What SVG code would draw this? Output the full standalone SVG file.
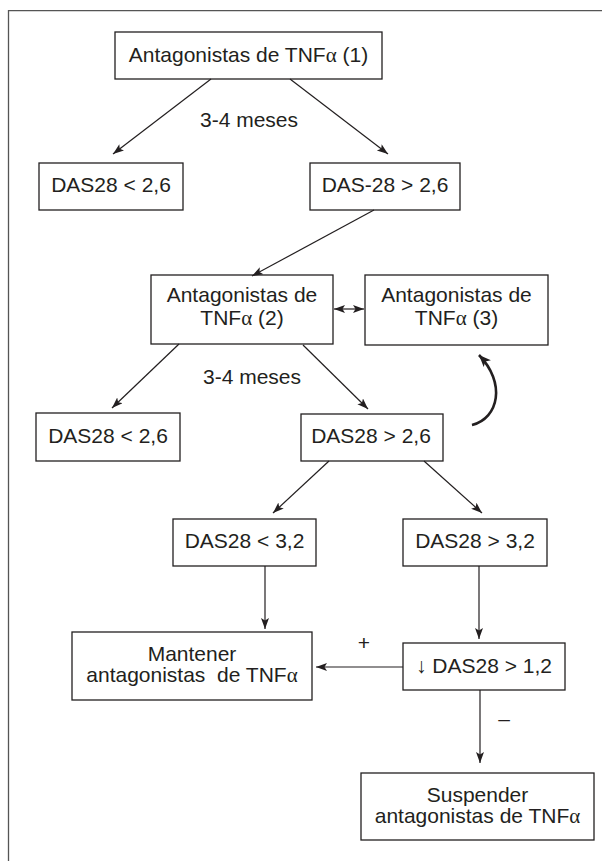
<svg xmlns="http://www.w3.org/2000/svg" width="602" height="861" viewBox="0 0 602 861">
<style>
.box{fill:#fff;stroke:#231f20;stroke-width:1.3}
.t{font-family:"Liberation Sans",Arial,sans-serif;font-size:21px;fill:#231f20;text-anchor:middle}
.a{font-family:"Liberation Serif","Times New Roman",serif}
.c{fill:none;stroke:#231f20;stroke-width:1.2}
.frame{fill:none;stroke:#555;stroke-width:1.3}
</style>
<defs>
<marker id="ah" markerUnits="userSpaceOnUse" markerWidth="13" markerHeight="10" refX="11" refY="4" orient="auto-start-reverse">
<path d="M0,0 L11,4 L0,8 L2.5,4 Z" fill="#231f20"/>
</marker>
<marker id="ahb" markerUnits="userSpaceOnUse" markerWidth="15" markerHeight="12" refX="12" refY="5" orient="auto">
<path d="M0,0 L12,5 L0,10 L3,5 Z" fill="#231f20"/>
</marker>
</defs>
<path class="frame" d="M8.5,861 V10.7 H602"/>
<g id="n1"><rect class="box" x="115" y="32" width="267" height="47"/><text class="t" x="248.5" y="62">Antagonistas de TNF<tspan class="a">α</tspan> (1)</text></g>
<g id="n2"><rect class="box" x="39" y="163" width="144" height="47"/><text class="t" x="111" y="192">DAS28 &lt; 2,6</text></g>
<g id="n3"><rect class="box" x="310" y="163" width="150" height="47"/><text class="t" x="385" y="192">DAS-28 &gt; 2,6</text></g>
<g id="n4"><rect class="box" x="151" y="275" width="182" height="69"/><text class="t" x="242" y="302">Antagonistas de</text><text class="t" x="242" y="325">TNF<tspan class="a">α</tspan> (2)</text></g>
<g id="n5"><rect class="box" x="365" y="275" width="183" height="70"/><text class="t" x="456.5" y="302">Antagonistas de</text><text class="t" x="456.5" y="325">TNF<tspan class="a">α</tspan> (3)</text></g>
<g id="n6"><rect class="box" x="36" y="413" width="144" height="48"/><text class="t" x="108" y="443">DAS28 &lt; 2,6</text></g>
<g id="n7"><rect class="box" x="301" y="414" width="142" height="47"/><text class="t" x="371" y="443">DAS28 &gt; 2,6</text></g>
<g id="n8"><rect class="box" x="173" y="519" width="143" height="47"/><text class="t" x="244.5" y="548">DAS28 &lt; 3,2</text></g>
<g id="n9"><rect class="box" x="403" y="519" width="144" height="47"/><text class="t" x="475" y="548">DAS28 &gt; 3,2</text></g>
<g id="n10"><rect class="box" x="72" y="632" width="240" height="68"/><text class="t" x="192" y="661">Mantener</text><text class="t" x="192" y="682" xml:space="preserve">antagonistas  de TNF<tspan class="a">α</tspan></text></g>
<g id="n11"><rect class="box" x="403" y="643" width="162" height="47"/><text class="t" x="484" y="673">↓ DAS28 &gt; 1,2</text></g>
<g id="n12"><rect class="box" x="361" y="773" width="233" height="67"/><text class="t" x="477.5" y="802">Suspender</text><text class="t" x="477.5" y="823">antagonistas de TNF<tspan class="a">α</tspan></text></g>
<g id="connectors">
<path class="c" marker-end="url(#ah)" d="M211,79 L113,154"/>
<path class="c" marker-end="url(#ah)" d="M290,79 L388,154"/>
<path class="c" marker-end="url(#ah)" d="M374,210 L252,276"/>
<path class="c" marker-start="url(#ah)" marker-end="url(#ah)" d="M334,309 L364,309"/>
<path class="c" marker-end="url(#ah)" d="M179,344 L112,408"/>
<path class="c" marker-end="url(#ah)" d="M303,345 L368,409"/>
<path class="c" marker-end="url(#ah)" d="M329,461 L273,513"/>
<path class="c" marker-end="url(#ah)" d="M424,461 L482,513"/>
<path class="c" marker-end="url(#ah)" d="M265,566 L265,629"/>
<path class="c" marker-end="url(#ah)" d="M479,566 L479,639"/>
<path class="c" marker-end="url(#ah)" d="M403,667 L316,667"/>
<path class="c" marker-end="url(#ah)" d="M480,690 L480,763"/>
<path fill="none" stroke="#231f20" stroke-width="2.6" marker-end="url(#ahb)" d="M472,425 C499,418 506,383 479,355"/>
</g>
<g id="labels">
<text class="t" x="249" y="127">3-4 meses</text>
<text class="t" x="252" y="384">3-4 meses</text>
<text class="t" x="364" y="650">+</text>
<text class="t" x="504" y="726">–</text>
</g>
</svg>
